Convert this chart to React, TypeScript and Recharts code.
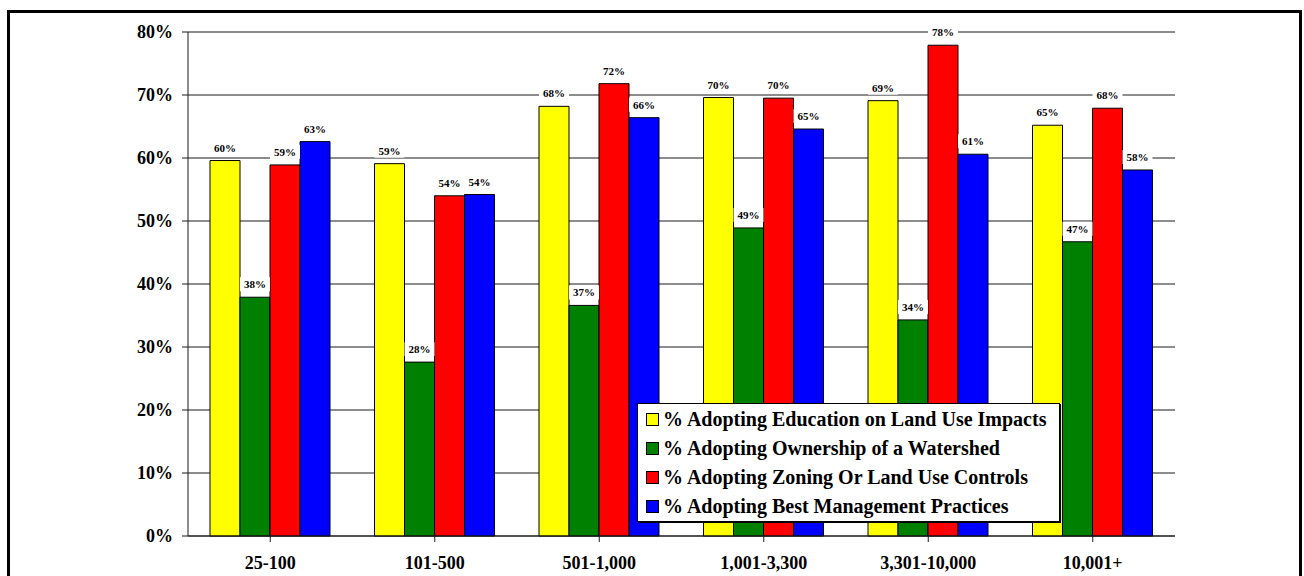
import React from 'react';
import { BarChart, Bar, XAxis, YAxis, CartesianGrid, Legend, LabelList } from 'recharts';

const categories = ['25-100', '101-500', '501-1,000', '1,001-3,300', '3,301-10,000', '10,001+'];
const education = [59.6, 59.1, 68.2, 69.6, 69.1, 65.2];
const ownership = [37.9, 27.6, 36.6, 48.9, 34.3, 46.7];
const zoning = [58.9, 54.0, 71.8, 69.5, 77.9, 67.9];
const bmp = [62.6, 54.2, 66.4, 64.6, 60.6, 58.1];
const yTicks = [0, 10, 20, 30, 40, 50, 60, 70, 80];

const seriesNames = [
  '% Adopting Education on Land Use Impacts',
  '% Adopting Ownership of a Watershed',
  '% Adopting Zoning Or Land Use Controls',
  '% Adopting Best Management Practices',
];
const COLORS = ['#FFFF00', '#008000', '#FF0000', '#0000FF'];

const data = categories.map((name, i) => ({
  name,
  education: education[i],
  ownership: ownership[i],
  zoning: zoning[i],
  bmp: bmp[i],
}));

const FONT = '"Liberation Serif", "Times New Roman", serif';

const ValueLabel = (props: any) => {
  const { x, y, width, value } = props;
  const cx = Number(x) + Number(width) / 2;
  const top = Number(y);
  return (
    <g>
      <rect x={cx - 15} y={top - 20} width={30} height={14} fill="#fff" />
      <text
        x={cx}
        y={top - 13}
        textAnchor="middle"
        dominantBaseline="central"
        fontFamily={FONT}
        fontWeight="bold"
        fontSize={11}
        fill="#000"
      >
        {`${Math.round(Number(value))}%`}
      </text>
    </g>
  );
};

// keep legend in series order (recharts sorts by name otherwise)
const renderLegend = (props: any) => {
  const items = [...(props.payload || [])].sort(
    (a: any, b: any) => seriesNames.indexOf(a.value) - seriesNames.indexOf(b.value)
  );
  return (
    <div
      style={{
        width: '100%',
        height: '100%',
        boxSizing: 'border-box',
        background: '#fff',
        border: '1px solid #000',
        boxShadow: '1px 1px 0 #000',
        padding: '1px 0 0 8px',
      }}
    >
      {items.map((entry: any, i: number) => (
        <div
          key={`leg-${i}`}
          style={{ display: 'flex', alignItems: 'center', height: 29, fontFamily: FONT, fontWeight: 'bold', fontSize: 20, color: '#000', whiteSpace: 'nowrap' }}
        >
          <span
            style={{ display: 'inline-block', width: 11, height: 11, background: entry.color, border: '1px solid #000', marginRight: 4 }}
          />
          {entry.value}
        </div>
      ))}
    </div>
  );
};

export default function App() {
  return (
    <div style={{ position: 'absolute', left: 0, top: 0, width: 1304, height: 576, overflow: 'hidden', background: '#fff' }}>
      <div
        style={{ position: 'absolute', left: 7, top: 10, width: 1295, height: 600, border: '3px solid #000', boxSizing: 'border-box' }}
      />
      <div style={{ position: 'absolute', left: 0, top: 0 }}>
        <BarChart
          width={1304}
          height={576}
          data={data}
          margin={{ top: 32, right: 129, left: 108, bottom: 0 }}
          barGap={0}
          barSize={30}
        >
          <CartesianGrid vertical={false} stroke="#1a1a1a" strokeWidth={1} />
          <XAxis
            dataKey="name"
            height={40}
            axisLine={{ stroke: '#1a1a1a' }}
            tickLine={{ stroke: '#1a1a1a' }}
            tickSize={6}
            interval={0}
            tick={{ fill: '#000', fontFamily: FONT, fontWeight: 'bold', fontSize: 18, dy: 12 }}
          />
          <YAxis
            width={80}
            domain={[0, 80]}
            ticks={yTicks}
            interval={0}
            tickFormatter={(v) => `${v}%`}
            axisLine={{ stroke: '#1a1a1a' }}
            tickLine={{ stroke: '#1a1a1a' }}
            tickSize={6}
            tickMargin={9}
            tick={{ fill: '#000', fontFamily: FONT, fontWeight: 'bold', fontSize: 18 }}
          />
          <Legend
            layout="vertical"
            align="center"
            verticalAlign="middle"
            content={renderLegend}
            wrapperStyle={{ left: 637, top: 403, width: 423, height: 119 }}
          />
          <Bar dataKey="education" name={seriesNames[0]} fill={COLORS[0]} stroke="#000" strokeWidth={1} isAnimationActive={false}>
            <LabelList dataKey="education" content={ValueLabel} />
          </Bar>
          <Bar dataKey="ownership" name={seriesNames[1]} fill={COLORS[1]} stroke="#000" strokeWidth={1} isAnimationActive={false}>
            <LabelList dataKey="ownership" content={ValueLabel} />
          </Bar>
          <Bar dataKey="zoning" name={seriesNames[2]} fill={COLORS[2]} stroke="#000" strokeWidth={1} isAnimationActive={false}>
            <LabelList dataKey="zoning" content={ValueLabel} />
          </Bar>
          <Bar dataKey="bmp" name={seriesNames[3]} fill={COLORS[3]} stroke="#000" strokeWidth={1} isAnimationActive={false}>
            <LabelList dataKey="bmp" content={ValueLabel} />
          </Bar>
        </BarChart>
      </div>
    </div>
  );
}
